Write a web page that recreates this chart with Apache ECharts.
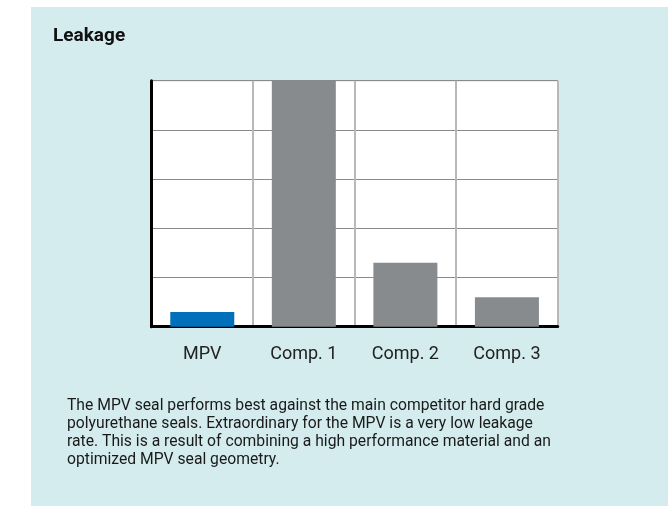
<!DOCTYPE html>
<html>
<head>
<meta charset="utf-8">
<script src="https://cdn.jsdelivr.net/npm/echarts@6/dist/echarts.min.js"></script>
<style>
  html, body { margin: 0; padding: 0; background: #fff; }
  #main { width: 668px; height: 506px; }
</style>
</head>
<body>
<div id="main"></div>
<script>
// data (leakage, relative units)
var categories = ['MPV', 'Comp. 1', 'Comp. 2', 'Comp. 3']
var leakage = [6, 100, 26, 12]
var barColors = ['#0070bb', '#888b8e', '#888b8e', '#888b8e']
var captionLines = [
  'The MPV seal performs best against the main competitor hard grade',
  'polyurethane seals. Extraordinary for the MPV is a very low leakage',
  'rate. This is a result of combining a high performance material and an',
  'optimized MPV seal geometry.'
]

var chart = echarts.init(document.getElementById('main'))

var option = {
  backgroundColor: '#fff',
  animation: false,
  graphic: [
    {
      type: 'rect',
      z: -10,
      shape: { x: 31, y: 7, width: 637, height: 499 },
      style: { fill: '#d4ecee' }
    },
    {
      type: 'text',
      left: 53,
      top: 27,
      style: {
        text: 'Leakage',
        font: 'bold 19px Roboto, sans-serif',
        fill: '#111'
      }
    },
    {
      type: 'text',
      left: 67,
      top: 397,
      style: {
        text: captionLines.join('\n'),
        font: '15.7px Roboto, sans-serif',
        lineHeight: 18,
        fill: '#1a1a1a'
      }
    }
  ],
  grid: {
    left: 151.5,
    right: 110.3,
    top: 80.7,
    bottom: 179.3,
    show: true,
    backgroundColor: '#fff',
    borderColor: '#aaa',
    borderWidth: 1
  },
  xAxis: {
    type: 'category',
    data: categories,
    axisLine: { lineStyle: { color: '#000', width: 3 } },
    axisTick: { show: false },
    axisLabel: {
      margin: 19,
      fontSize: 18,
      fontFamily: 'Roboto, sans-serif',
      color: '#222'
    },
    splitLine: { show: true, lineStyle: { color: '#b8b8b8', width: 2 } }
  },
  yAxis: {
    type: 'value',
    min: 0,
    max: 100,
    interval: 20,
    axisLine: { show: true, lineStyle: { color: '#000', width: 3 } },
    axisTick: { show: false },
    axisLabel: { show: false },
    splitLine: { lineStyle: { color: '#8a8a8a', width: 1 } }
  },
  series: [{
    type: 'bar',
    barWidth: 64,
    data: leakage.map(function (v, i) {
      return { value: v, itemStyle: { color: barColors[i] } }
    })
  }]
}

chart.setOption(option)
</script>
</body>
</html>
